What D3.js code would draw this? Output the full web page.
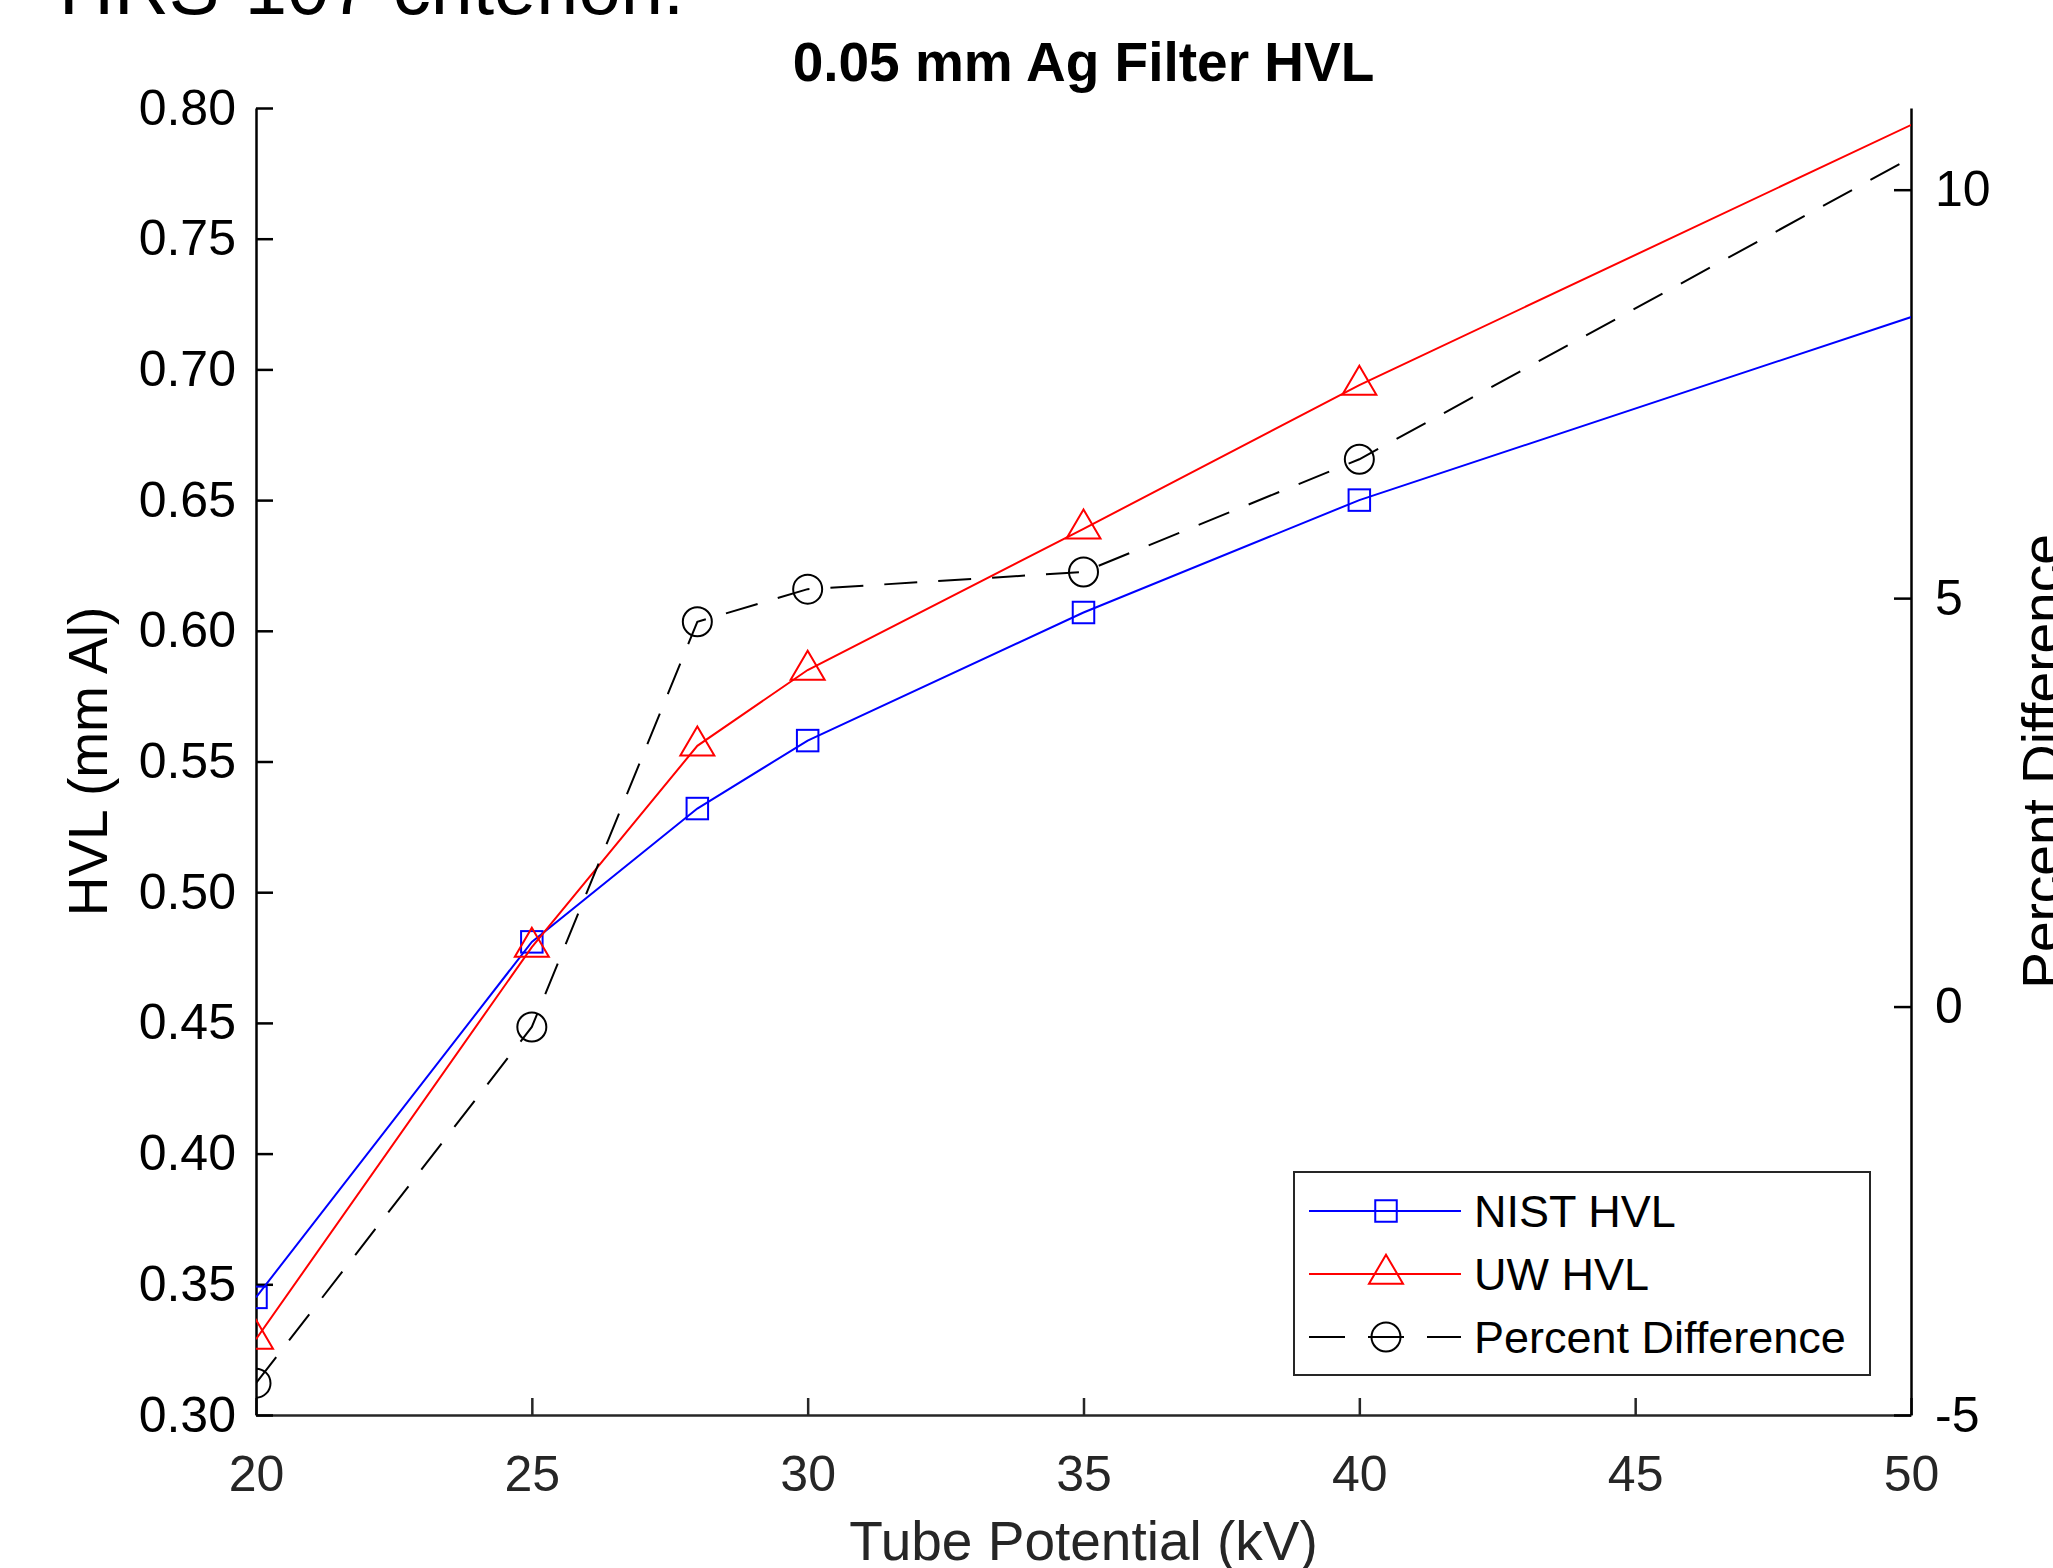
<!DOCTYPE html>
<html>
<head>
<meta charset="utf-8">
<script src="https://cdn.jsdelivr.net/npm/d3@7"></script>
<style>
  body { margin: 0; background: #fff; }
  svg { display: block; font-family: "Liberation Sans", Arial, sans-serif; }
</style>
</head>
<body>
<div id="chart"></div>
<script>
// values (kV, mm Al, %)
var kv = [20, 25, 28, 30, 35, 40, 60];
var nistHvl = [0.345, 0.481, 0.532, 0.558, 0.607, 0.650, 0.790];
var uwHvl = [0.329, 0.479, 0.556, 0.585, 0.639, 0.694, 0.893];
var pctDiff = [-4.61, -0.25, 4.71, 5.11, 5.32, 6.70, 14.08];

var xTicks = [20, 25, 30, 35, 40, 45, 50];
var yLeftTicks = [0.30, 0.35, 0.40, 0.45, 0.50, 0.55, 0.60, 0.65, 0.70, 0.75, 0.80];
var yRightTicks = [-5, 0, 5, 10];
var legendLabels = ["NIST HVL", "UW HVL", "Percent Difference"];

var width = 2053;
var height = 1568;
var plotL = 256, plotR = 1911, plotT = 108, plotB = 1415;
var tickLen = 17;
var fontFamily = '"Liberation Sans", Arial, sans-serif';

var svg = d3.select("#chart").append("svg")
    .attr("width", width)
    .attr("height", height);

svg.append("rect").attr("width", width).attr("height", height).attr("fill", "#fff");

/* Scales */
var x = d3.scaleLinear().domain([20, 50]).range([plotL, plotR]);
var yL = d3.scaleLinear().domain([0.30, 0.80]).range([plotB, plotT]);
var yR = d3.scaleLinear().domain([-5, 11]).range([plotB, plotT]);

/* cut off line of text from the page above */
svg.append("text")
    .attr("x", 59).attr("y", 14)
    .attr("font-size", 76)
    .attr("fill", "#000")
    .text("HRS-107 criterion.");

/* Axes */
function styleAxis(g, color) {
    g.attr("font-size", 50).attr("font-family", fontFamily).style("color", color);
    g.select(".domain").attr("stroke-width", 2.5);
    g.selectAll(".tick line").attr("stroke-width", 2.5);
}

svg.append("g")
    .attr("transform", `translate(0, ${plotB})`)
    .call(d3.axisBottom(x).tickValues(xTicks).tickSizeInner(-tickLen).tickSizeOuter(0)
        .tickPadding(40).tickFormat(d => String(d)))
    .call(g => styleAxis(g, "#262626"));

svg.append("g")
    .attr("transform", `translate(${plotL}, 0)`)
    .call(d3.axisLeft(yL).tickValues(yLeftTicks).tickSizeInner(-tickLen).tickSizeOuter(0)
        .tickPadding(20).tickFormat(d => d.toFixed(2)))
    .call(g => styleAxis(g, "#000"));

svg.append("g")
    .attr("transform", `translate(${plotR}, 0)`)
    .call(d3.axisRight(yR).tickValues(yRightTicks).tickSizeInner(-tickLen).tickSizeOuter(0)
        .tickPadding(24).tickFormat(d => String(d)))
    .call(g => styleAxis(g, "#000"));

/* Labels */
svg.append("text")
    .attr("x", (plotL + plotR) / 2).attr("y", 81)
    .attr("text-anchor", "middle")
    .attr("font-size", 55).attr("font-weight", "bold")
    .text("0.05 mm Ag Filter HVL");

svg.append("text")
    .attr("x", (plotL + plotR) / 2).attr("y", 1560)
    .attr("text-anchor", "middle")
    .attr("font-size", 55).attr("fill", "#262626")
    .text("Tube Potential (kV)");

svg.append("text")
    .attr("transform", `translate(107, ${(plotT + plotB) / 2}) rotate(-90)`)
    .attr("text-anchor", "middle")
    .attr("font-size", 55)
    .text("HVL (mm Al)");

svg.append("text")
    .attr("transform", `translate(2061, ${(plotT + plotB) / 2}) rotate(-90)`)
    .attr("text-anchor", "middle")
    .attr("font-size", 55)
    .text("Percent Difference");

/* Marker shapes */
function drawSquare(g, cx, cy, color) {
    g.append("rect").attr("x", cx - 10.75).attr("y", cy - 10.75)
        .attr("width", 21.5).attr("height", 21.5)
        .attr("fill", "none").attr("stroke", color).attr("stroke-width", 2);
}
function drawTriangle(g, cx, cy, color) {
    var w = 34, h = 29;
    g.append("path")
        .attr("d", `M${cx},${cy - 2 * h / 3}L${cx + w / 2},${cy + h / 3}L${cx - w / 2},${cy + h / 3}Z`)
        .attr("fill", "none").attr("stroke", color).attr("stroke-width", 2);
}
function drawCircle(g, cx, cy, color) {
    g.append("circle").attr("cx", cx).attr("cy", cy).attr("r", 14.5)
        .attr("fill", "none").attr("stroke", color).attr("stroke-width", 2);
}

var series = [
    { name: legendLabels[0], values: nistHvl, y: yL, color: "#0000ff", dash: null, marker: drawSquare },
    { name: legendLabels[1], values: uwHvl, y: yL, color: "#ff0000", dash: null, marker: drawTriangle },
    { name: legendLabels[2], values: pctDiff, y: yR, color: "#000000", dash: "33,21", marker: drawCircle }
];

/* Plot area with clipping */
svg.append("clipPath").attr("id", "plotClip")
    .append("rect")
    .attr("x", plotL).attr("y", plotT)
    .attr("width", plotR - plotL).attr("height", plotB - plotT);

var plot = svg.append("g").attr("clip-path", "url(#plotClip)");

series.forEach(function(s) {
    var pts = kv.map((k, i) => ({ kv: k, v: s.values[i] }));
    var line = d3.line()
        .x(d => x(d.kv))
        .y(d => s.y(d.v));
    plot.append("path")
        .attr("d", line(pts))
        .attr("fill", "none")
        .attr("stroke", s.color)
        .attr("stroke-width", 2)
        .attr("stroke-dasharray", s.dash);
    var mg = plot.append("g");
    pts.forEach(function(d) {
        s.marker(mg, x(d.kv), s.y(d.v), s.color);
    });
});

/* Legend */
var legend = svg.append("g");
legend.append("rect")
    .attr("x", 1294).attr("y", 1172)
    .attr("width", 576).attr("height", 203)
    .attr("fill", "#fff").attr("stroke", "#262626").attr("stroke-width", 2);

series.forEach(function(s, i) {
    var ry = 1211 + i * 63;
    legend.append("line")
        .attr("x1", 1309).attr("x2", 1461)
        .attr("y1", ry).attr("y2", ry)
        .attr("stroke", s.color).attr("stroke-width", 2)
        .attr("stroke-dasharray", s.dash ? "36,23" : null);
    s.marker(legend, 1386, ry, s.color);
    legend.append("text")
        .attr("x", 1474).attr("y", ry + 16)
        .attr("font-size", 45)
        .text(s.name);
});
</script>
</body>
</html>
